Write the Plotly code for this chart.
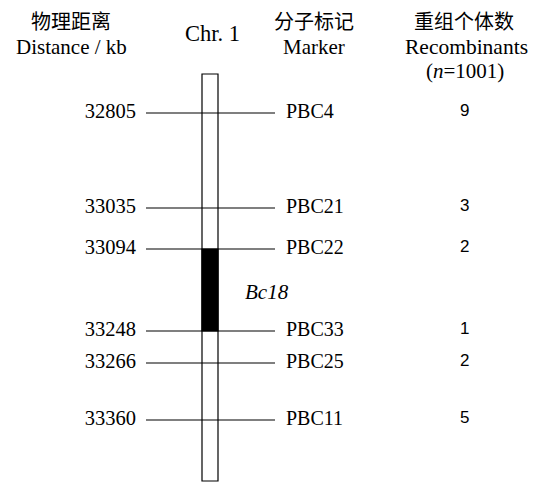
import plotly.graph_objects as go

# ---- data ----
markers = ["PBC4", "PBC21", "PBC22", "PBC33", "PBC25", "PBC11"]
distance_kb = ["32805", "33035", "33094", "33248", "33266", "33360"]
recombinants = [9, 3, 2, 1, 2, 5]
# schematic map positions (drawing order along the chromosome, not to scale)
map_pos = [113, 208, 249, 331, 363, 420]
gene_name = "Bc18"
gene_interval = ("PBC22", "PBC33")

SERIF = "Liberation Serif, Times New Roman, Noto Sans CJK SC, serif"
SANS = "Liberation Sans, Arial, sans-serif"

fig = go.Figure()

# chromosome body
fig.add_shape(type="rect", x0=202, x1=218, y0=74, y1=481,
              line=dict(color="black", width=1.2), fillcolor="white", layer="below")
# gene interval (black block)
i0 = markers.index(gene_interval[0]); i1 = markers.index(gene_interval[1])
fig.add_shape(type="rect", x0=202, x1=218, y0=map_pos[i0], y1=map_pos[i1],
              line=dict(color="black", width=1.2), fillcolor="black")

# marker lines
for y in map_pos:
    fig.add_trace(go.Scatter(x=[146, 275], y=[y, y], mode="lines",
                             line=dict(color="black", width=1.1),
                             hoverinfo="skip", showlegend=False))

# distance labels
fig.add_trace(go.Scatter(x=[136] * len(map_pos), y=map_pos, mode="text",
                         text=distance_kb, textposition="middle left",
                         textfont=dict(family=SERIF, size=20.5, color="black"),
                         showlegend=False, hoverinfo="skip"))
# marker labels
fig.add_trace(go.Scatter(x=[286] * len(map_pos), y=map_pos, mode="text",
                         text=markers, textposition="middle right",
                         textfont=dict(family=SERIF, size=20, color="black"),
                         showlegend=False, hoverinfo="skip"))
# recombinant counts
for p, v in zip(map_pos, recombinants):
    fig.add_annotation(x=464, y=p - 3, text=str(v), showarrow=False,
                       xanchor="center", yanchor="middle",
                       font=dict(family=SANS, size=17, color="black"))

# gene label
fig.add_annotation(x=243, y=(map_pos[i0] + map_pos[i1]) / 2 + 2, text="<i>" + gene_name + "</i>",
                   showarrow=False, xanchor="left", yanchor="middle",
                   font=dict(family=SERIF, size=21, color="black"))

# headers
headers = [
    (71, 22, "物理距离", 20), (71, 47, "Distance / kb", 21),
    (212, 33, "Chr. 1", 22.5),
    (314, 22, "分子标记", 20), (314, 47, "Marker", 21),
    (464, 22, "重组个体数", 20), (466, 47, "Recombinants", 21.5),
    (465, 71, "(<i>n</i>=1001)", 21),
]
for x, y, t, s in headers:
    fig.add_annotation(x=x, y=y, text=t, showarrow=False, xanchor="center", yanchor="middle",
                       font=dict(family=SERIF, size=s, color="black"))

fig.update_xaxes(range=[0, 536], visible=False, fixedrange=True)
fig.update_yaxes(range=[482, 0], visible=False, fixedrange=True)
fig.update_layout(width=536, height=482, margin=dict(l=0, r=0, t=0, b=0),
                  plot_bgcolor="white", paper_bgcolor="white")

fig.write_html("out.html", config={"displayModeBar": False},
               post_script="document.body.style.margin='0';document.body.style.overflow='hidden';")
